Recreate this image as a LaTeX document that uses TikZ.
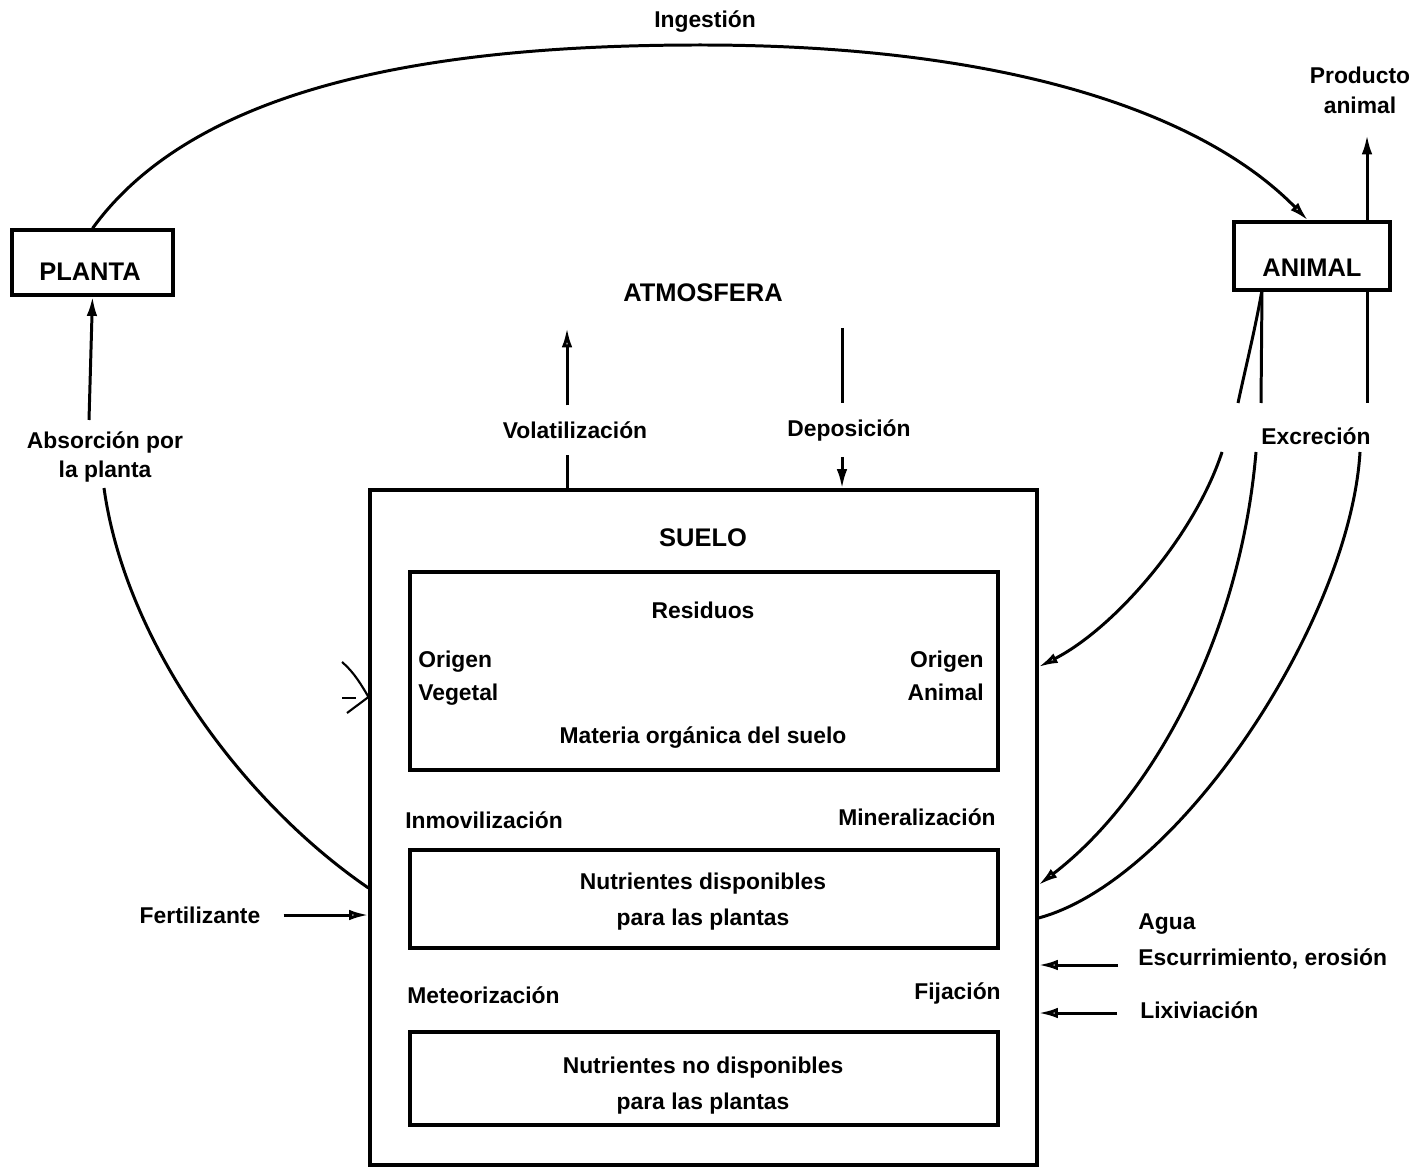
\documentclass[tikz,border=0pt]{standalone}
\usepackage{fontspec}
\setmainfont{Liberation Sans}
\usetikzlibrary{arrows.meta,calc}
\begin{document}
\begin{tikzpicture}[x=0.02cm,y=-0.02cm,
  lbl/.style={font=\bfseries\fontsize{13}{17}\selectfont, inner sep=0pt},
  lbltwo/.style={font=\bfseries\fontsize{13}{20.5}\selectfont, inner sep=0pt, align=center},
  brk/.style={lbl, inner sep=9pt},
  capt/.style={font=\bfseries\fontsize{14.5}{17}\selectfont, inner sep=0pt},
  box/.style={draw, line width=1.8pt, inner sep=0pt},
  flow/.style={line width=1.7pt},
  otip/.style={-{Latex[open,length=11pt,width=6pt]}},
  ftip/.style={-{Latex[length=11pt,width=6pt]}},
]
\useasboundingbox (0,0) rectangle (1415,1168);

% --- compartments ---
\node[box, minimum width=3.22cm, minimum height=1.3cm] (planta) at (92.5,262.5) {};
\node[capt] at (90,272) {PLANTA};
\node[box, minimum width=3.12cm, minimum height=1.36cm] (animal) at (1312,256) {};
\node[capt] at (1312,268) {ANIMAL};
\node[capt] (atm) at (703,293) {ATMOSFERA};

\node[box, minimum width=13.34cm, minimum height=13.5cm] (suelo) at (703.5,827.5) {};
\node[capt] at (703,538) {SUELO};

\node[box, minimum width=11.76cm, minimum height=3.96cm] (mos) at (704,671) {};
\node[lbl] at (703,610) {Residuos};
\node[lbl, anchor=base west] at (418,667) {Origen};
\node[lbl, anchor=base west] at (418,700) {Vegetal};
\node[lbl, anchor=base east] at (984,667) {Origen};
\node[lbl, anchor=base east] at (984,700) {Animal};
\node[lbl] at (703,738) {Materia orgánica del suelo};

\node[lbl, anchor=west] at (405,820) {Inmovilización};
\node[lbl, anchor=east] at (996,817) {Mineralización};

\node[box, minimum width=11.76cm, minimum height=1.96cm] (nd) at (704,899) {};
\node[lbltwo] at (703,902) {Nutrientes disponibles\\para las plantas};

\node[lbl, anchor=west] at (407,995) {Meteorización};
\node[lbl, anchor=east] at (1001,993) {Fijación};

\node[box, minimum width=11.76cm, minimum height=1.86cm] (nnd) at (704,1078.5) {};
\node[lbltwo] at (703,1086) {Nutrientes no disponibles\\para las plantas};

% --- flow labels ---
\node[lbl] (ing) at (705,22) {Ingestión};
\node[lbl, align=center] (prod) at (1360,90) {Producto\\animal};
\node[brk] (vol) at (575,430) {Volatilización};
\node[brk] (dep) at (849,430) {Deposición};
\node[lbl, align=center] (abs) at (105,457) {Absorción por\\la planta};
\node[lbl] (exc) at (1316,436) {Excreción};
\node[lbl] (fert) at (200,915) {Fertilizante};
\node[lbltwo, align=left, anchor=west] (agua) at (1138,941) {Agua\\Escurrimiento, erosión};
\node[lbl, anchor=west] (lix) at (1140,1010) {Lixiviación};

% --- free ends and break points ---
\coordinate (vx) at (567,328);
\coordinate (dx) at (842,328);
\coordinate (px) at (1367,135);
\coordinate (ax) at (1262,290);
\coordinate (c1a) at (1238,403);
\coordinate (c1b) at (1222,452);
\coordinate (c2a) at (1261,403);
\coordinate (c2b) at (1256,452);
\coordinate (c3a) at (1367,403);
\coordinate (c3b) at (1360,452);
\coordinate (ab1) at (89,420);
\coordinate (ab2) at (104,488);
\coordinate (ag) at (1118,965);
\coordinate (lx) at (1117,1013);

% ingestion
\draw[flow, otip] (planta.north) .. controls (200,80) and (450,45) .. (700,45)
  .. controls (1000,45) and (1200,110) .. ([xshift=-0.08cm]animal.north);

% animal product
\draw[flow, ftip] (animal.north -| px) -- (px);

% volatilisation and deposition
\draw[flow] (suelo.north -| vx) -- (vol.south -| vx);
\draw[flow, otip] (vol.north -| vx) -- (vx);
\draw[flow] (dx) -- (dep.north -| dx);
\draw[flow, ftip] (dep.south -| dx) -- (suelo.north -| dx);

% plant uptake
\draw[flow, ftip] (ab1) -- (planta.south);
\draw[flow] (ab2) .. controls (125,640) and (240,800) .. (suelo.west |- 0,888);

% plant residues entering the soil
\draw[line width=1.2pt] (342,662) .. controls (354,672) and (362,686) .. (suelo.west |- 0,697) -- (347,713);
\draw[line width=1.2pt] (342,698) -- (356,698);

% fertiliser
\draw[flow, otip] ([xshift=0.46cm]fert.east) -- (suelo.west |- fert.east);

% excretion
\draw[flow] (ax) .. controls (1255,330) and (1245,370) .. (c1a);
\draw[flow, otip] (c1b) .. controls (1195,535) and (1115,628) .. (suelo.east |- 0,667);
\draw[flow] (ax) -- (c2a);
\draw[flow, otip] (c2b) .. controls (1240,640) and (1150,800) .. (suelo.east |- 0,885);
\draw[flow] (animal.south -| px) -- (c3a);
\draw[flow] (c3b) .. controls (1350,620) and (1180,880) .. (suelo.east |- 0,918);

% losses
\draw[flow, otip] (ag) -- (suelo.east |- ag);
\draw[flow, otip] (lx) -- (suelo.east |- lx);
\end{tikzpicture}
\end{document}
